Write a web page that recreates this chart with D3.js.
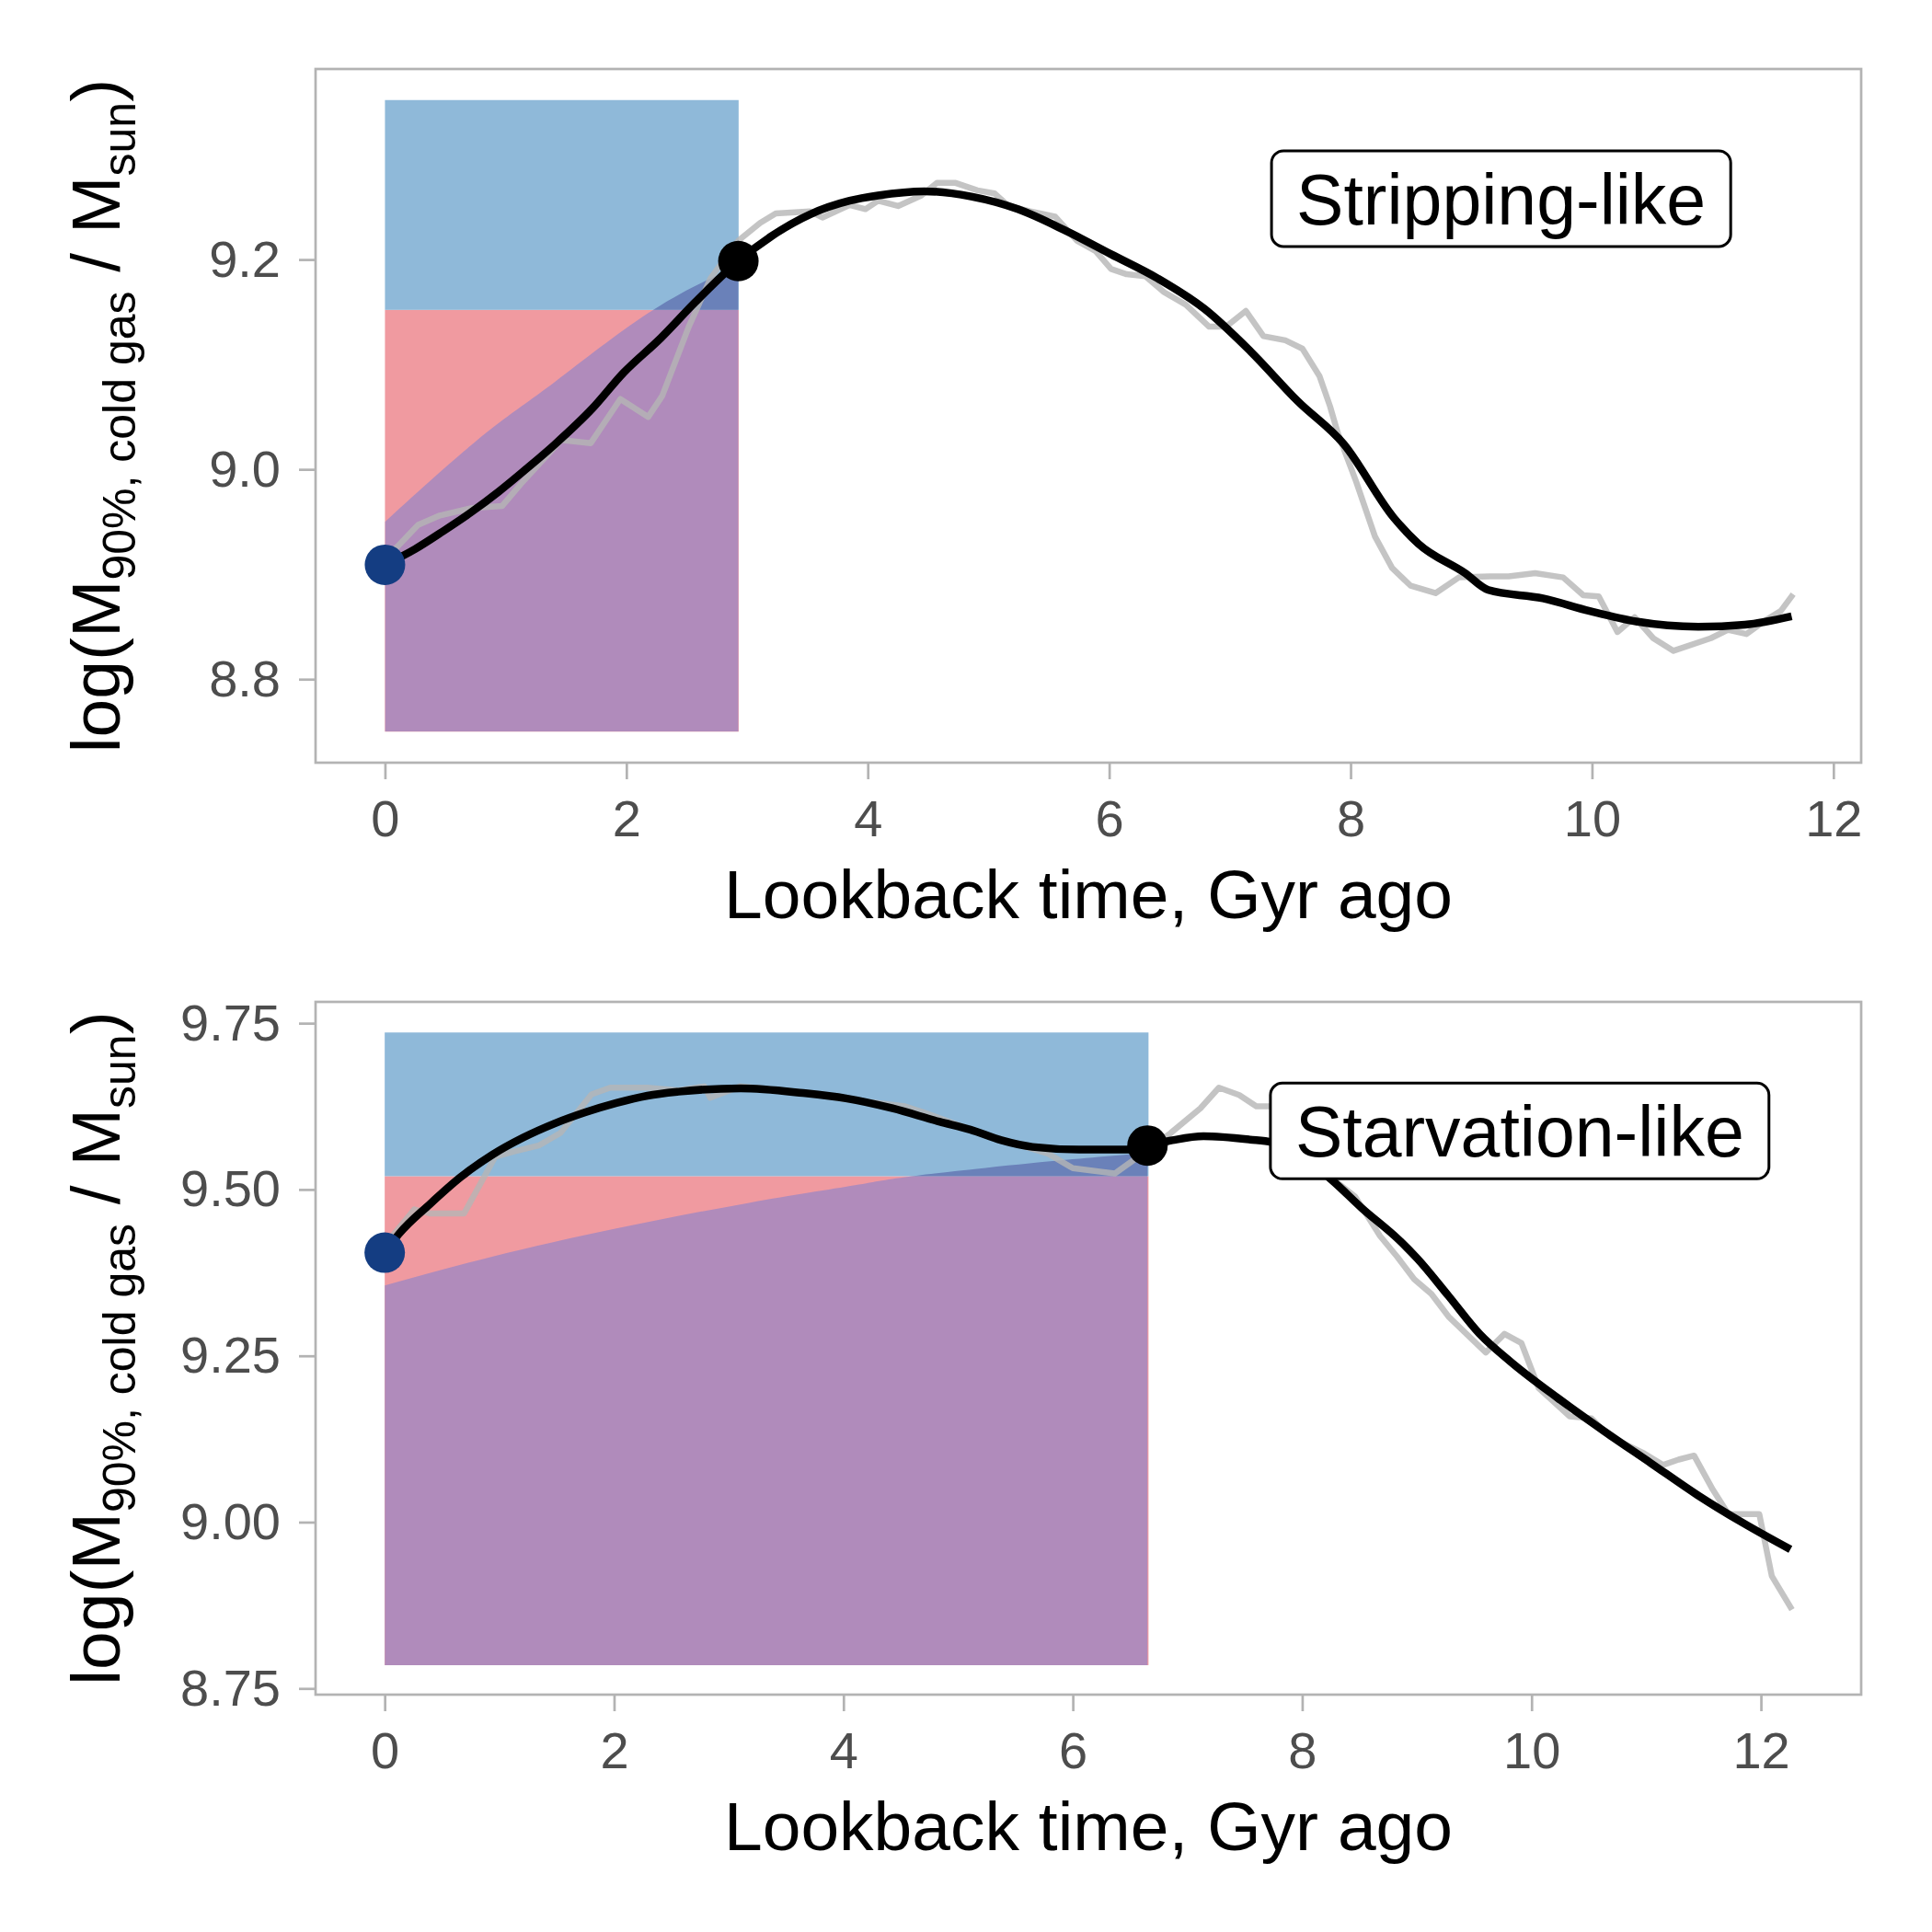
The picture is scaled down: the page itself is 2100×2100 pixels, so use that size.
<!DOCTYPE html>
<html>
<head>
<meta charset="utf-8">
<script src="https://cdn.jsdelivr.net/npm/d3@7"></script>
<style>
  body { margin: 0; background: #fff; }
  svg { display: block; }
  text { font-family: "Liberation Sans", Arial, Helvetica, sans-serif; }
</style>
</head>
<body>
<svg id="chart" width="2100" height="2100"></svg>
<script>
// ---- data: [lookback time (Gyr), log mass] ----

// top panel: stripping-like
var topRaw = [[0, 8.914], [0.275, 8.947], [0.455, 8.956], [0.713, 8.963], [0.97, 8.965], [1.125, 8.986],
  [1.46, 9.028], [1.705, 9.025], [1.95, 9.067], [2.181, 9.05], [2.297, 9.07], [2.517, 9.136], [2.697, 9.182],
  [2.928, 9.218], [3.109, 9.235], [3.238, 9.244], [3.521, 9.246], [3.624, 9.240], [3.85, 9.252], [3.981, 9.248],
  [4.084, 9.256], [4.251, 9.251], [4.444, 9.261], [4.573, 9.273], [4.728, 9.273], [4.908, 9.266], [5.05, 9.263],
  [5.166, 9.251], [5.346, 9.246], [5.552, 9.241], [5.733, 9.218], [5.887, 9.208], [6.016, 9.191], [6.145, 9.186],
  [6.3, 9.184], [6.454, 9.169], [6.634, 9.157], [6.828, 9.136], [6.969, 9.136], [7.132, 9.151], [7.278, 9.127],
  [7.459, 9.123], [7.601, 9.115], [7.742, 9.089], [7.83, 9.06], [7.893, 9.035], [8.047, 8.988], [8.202, 8.936],
  [8.344, 8.906], [8.498, 8.889], [8.704, 8.882], [8.897, 8.897], [9.155, 8.898], [9.309, 8.898], [9.529, 8.901],
  [9.761, 8.897], [9.928, 8.88], [10.056, 8.879], [10.211, 8.845], [10.353, 8.859], [10.508, 8.839], [10.675, 8.827],
  [10.984, 8.839], [11.126, 8.847], [11.28, 8.843], [11.422, 8.855], [11.564, 8.865], [11.667, 8.881]];
var topSmooth = [[0, 8.909], [0.249, 8.924], [0.481, 8.941], [0.713, 8.959], [0.945, 8.979], [1.177, 9.001],
  [1.409, 9.024], [1.718, 9.058], [1.976, 9.092], [2.284, 9.125], [2.568, 9.159], [2.928, 9.1985], [3.212, 9.223],
  [3.521, 9.243], [3.85, 9.256], [4.084, 9.261], [4.47, 9.265], [4.857, 9.260], [5.243, 9.248], [5.63, 9.228],
  [6.016, 9.205], [6.402, 9.182], [6.789, 9.153], [7.175, 9.112], [7.562, 9.065], [7.944, 9.024], [8.357, 8.954],
  [8.562, 8.929], [8.949, 8.901], [9.141, 8.885], [9.593, 8.877], [9.98, 8.865], [10.366, 8.855], [10.881, 8.850],
  [11.268, 8.852], [11.654, 8.860]];
var topEnvelope = [[0, 8.950], [0.378, 8.9895], [0.893, 9.0398], [1.409, 9.0835], [2.181, 9.1489], [2.774, 9.1858],
  [2.928, 9.1925]];
var topWindow = [0, 2.93];            // time span of the shaded block
var topBands = [8.75, 9.152, 9.352];  // bottom, split, top of the shaded block
var topPoints = [[0, 8.909], [2.928, 9.1985]];
var topLabel = {text: 'Stripping-like', at: [7.345, 9.258]};
var topXDomain = [-0.575, 12.23];
var topYDomain = [8.7204, 9.3816];
var topYTicks = [8.8, 9.0, 9.2];

// bottom panel: starvation-like
var botRaw = [[0, 9.416], [0.258, 9.470], [0.394, 9.464], [0.692, 9.464], [0.963, 9.549], [1.126, 9.557],
  [1.342, 9.566], [1.532, 9.585], [1.804, 9.643], [1.966, 9.653], [2.291, 9.653], [2.562, 9.649], [2.788, 9.655],
  [2.837, 9.638], [3.1, 9.655], [3.4, 9.650], [3.7, 9.645], [4.0, 9.636], [4.3, 9.630], [4.537, 9.625],
  [4.698, 9.616], [5.0, 9.597], [5.3, 9.578], [5.55, 9.566], [5.783, 9.554], [6.0, 9.532], [6.366, 9.524],
  [6.569, 9.549], [6.84, 9.583], [7.112, 9.622], [7.274, 9.653], [7.451, 9.642], [7.6, 9.625], [7.722, 9.625],
  [7.9, 9.60], [8.1, 9.56], [8.309, 9.51], [8.463, 9.489], [8.679, 9.430], [8.828, 9.399], [8.977, 9.365],
  [9.127, 9.343], [9.276, 9.309], [9.601, 9.255], [9.764, 9.283], [9.912, 9.269], [10.062, 9.2015], [10.333, 9.159],
  [10.523, 9.156], [10.686, 9.128], [10.984, 9.103], [11.146, 9.086], [11.282, 9.094], [11.417, 9.100],
  [11.58, 9.049], [11.716, 9.012], [11.986, 9.012], [12.095, 8.919], [12.271, 8.8685]];
var botSmooth = [[0, 9.405], [0.123, 9.433], [0.394, 9.478], [0.665, 9.519], [0.936, 9.552], [1.207, 9.578],
  [1.478, 9.599], [1.749, 9.616], [2.02, 9.630], [2.291, 9.641], [2.562, 9.647], [3.104, 9.652], [3.646, 9.645],
  [4.022, 9.637], [4.428, 9.622], [4.835, 9.602], [5.106, 9.590], [5.377, 9.574], [5.648, 9.564], [6.055, 9.560],
  [6.461, 9.560], [6.651, 9.566], [6.868, 9.574], [7.139, 9.580], [7.545, 9.575], [7.735, 9.571], [8.0, 9.55],
  [8.273, 9.512], [8.517, 9.4725], [8.842, 9.4245], [9.005, 9.396], [9.276, 9.340], [9.547, 9.283], [9.818, 9.241],
  [10.225, 9.187], [10.631, 9.137], [11.038, 9.089], [11.444, 9.041], [11.851, 8.998], [12.257, 8.959]];
var botEnvelope = [[0, 9.3556], [0.936, 9.399], [2.02, 9.4414], [3.177, 9.480], [4.1, 9.5063],
  [4.635, 9.5207], [5.801, 9.5423], [6.651, 9.555]];
var botWindow = [0, 6.66];
var botBands = [8.785, 9.52, 9.736];
var botPoints = [[0, 9.405], [6.651, 9.566]];
var botLabel = {text: 'Starvation-like', at: [7.723, 9.588]};
var botXDomain = [-0.603, 12.874];
var botYDomain = [8.7407, 9.782];
var botYTicks = [8.75, 9.00, 9.25, 9.50, 9.75];

var xTicks = [0, 2, 4, 6, 8, 10, 12];

// ---- drawing ----
var svg = d3.select('#chart');
var defs = svg.append('defs');
var frameColor = '#b3b3b3';

function drawPanel(p, id) {
    var x = d3.scaleLinear().domain(p.xDomain).range([p.left, p.right]);
    var y = d3.scaleLinear().domain(p.yDomain).range([p.bottom, p.top]);
    var g = svg.append('g');

    var x0 = x(p.window[0]), x1 = x(p.window[1]);

    // clip rects for the two colour bands
    defs.append('clipPath').attr('id', 'lo' + id).append('rect')
        .attr('x', x0).attr('width', x1 - x0)
        .attr('y', y(p.bands[1])).attr('height', y(p.bands[0]) - y(p.bands[1]));
    defs.append('clipPath').attr('id', 'hi' + id).append('rect')
        .attr('x', x0).attr('width', x1 - x0)
        .attr('y', y(p.bands[2])).attr('height', y(p.bands[1]) - y(p.bands[2]));

    g.append('rect')
        .attr('x', x0).attr('width', x1 - x0)
        .attr('y', y(p.bands[1])).attr('height', y(p.bands[0]) - y(p.bands[1]))
        .attr('fill', '#f09aa0');
    g.append('rect')
        .attr('x', x0).attr('width', x1 - x0)
        .attr('y', y(p.bands[2])).attr('height', y(p.bands[1]) - y(p.bands[2]))
        .attr('fill', '#8fb9d9');

    var area = d3.area()
        .x(function(d) { return x(d[0]); })
        .y0(y(p.bands[0]))
        .y1(function(d) { return y(d[1]); })
        .curve(d3.curveNatural);
    g.append('path').datum(p.envelope).attr('d', area)
        .attr('fill', '#b08bbb').attr('clip-path', 'url(#lo' + id + ')');
    g.append('path').datum(p.envelope).attr('d', area)
        .attr('fill', '#6a81b9').attr('clip-path', 'url(#hi' + id + ')');

    // noisy track
    var rawLine = d3.line()
        .x(function(d) { return x(d[0]); })
        .y(function(d) { return y(d[1]); });
    g.append('path').datum(p.raw).attr('d', rawLine)
        .attr('fill', 'none').attr('stroke', '#b5b5b5').attr('stroke-opacity', 0.8)
        .attr('stroke-width', 6.5).attr('stroke-linejoin', 'round');

    // smoothed track
    var smoothLine = d3.line()
        .x(function(d) { return x(d[0]); })
        .y(function(d) { return y(d[1]); })
        .curve(d3.curveMonotoneX);
    g.append('path').datum(p.smooth).attr('d', smoothLine)
        .attr('fill', 'none').attr('stroke', '#000').attr('stroke-width', 8.5);

    g.selectAll('circle.pt').data(p.points).enter().append('circle')
        .attr('class', 'pt')
        .attr('cx', function(d) { return x(d[0]); })
        .attr('cy', function(d) { return y(d[1]); })
        .attr('r', 22)
        .attr('fill', function(d, i) { return i == 0 ? '#143d82' : '#000'; });

    // label box
    var lab = g.append('g');
    var t = lab.append('text').text(p.label.text)
        .attr('font-size', 77).attr('fill', '#000');
    var tw = t.node().getComputedTextLength();
    var bx = x(p.label.at[0]), by = y(p.label.at[1]) - 52;
    lab.insert('rect', 'text')
        .attr('x', bx).attr('y', by)
        .attr('width', tw + 54).attr('height', 104)
        .attr('rx', 13).attr('ry', 13)
        .attr('fill', '#fff').attr('stroke', '#000').attr('stroke-width', 3);
    t.attr('x', bx + 27).attr('y', by + 80);

    // frame
    svg.append('rect')
        .attr('x', p.left).attr('y', p.top)
        .attr('width', p.right - p.left).attr('height', p.bottom - p.top)
        .attr('fill', 'none').attr('stroke', frameColor).attr('stroke-width', 2.7);

    // axes
    var xAxis = svg.append('g')
        .attr('transform', 'translate(0,' + p.bottom + ')')
        .call(d3.axisBottom(x).tickValues(xTicks).tickFormat(d3.format('d'))
            .tickSize(18).tickSizeOuter(0).tickPadding(22));
    var yAxis = svg.append('g')
        .attr('transform', 'translate(' + p.left + ',0)')
        .call(d3.axisLeft(y).tickValues(p.yTicks).tickFormat(d3.format(p.yFormat))
            .tickSize(18).tickSizeOuter(0).tickPadding(20));
    [xAxis, yAxis].forEach(function(a) {
        a.select('.domain').remove();
        a.selectAll('line').attr('stroke', frameColor).attr('stroke-width', 2.7);
        a.selectAll('text').attr('font-size', 56).attr('fill', '#4d4d4d')
            .attr('font-family', '"Liberation Sans", Arial, sans-serif');
    });

    // axis titles
    svg.append('text')
        .attr('x', (p.left + p.right) / 2).attr('y', p.bottom + 169)
        .attr('text-anchor', 'middle').attr('font-size', 75)
        .text('Lookback time, Gyr ago');

    var yt = svg.append('text')
        .attr('transform', 'translate(130,' + ((p.top + p.bottom) / 2) + ') rotate(-90)')
        .attr('text-anchor', 'middle').attr('font-size', 75)
        .style('white-space', 'pre');
    yt.append('tspan').text('log(M');
    yt.append('tspan').attr('font-size', 50).attr('dy', 17).text('90%, cold gas');
    yt.append('tspan').attr('dy', -17).text(' / M');
    yt.append('tspan').attr('font-size', 50).attr('dy', 17).text('sun');
    yt.append('tspan').attr('dy', -17).text(')');
}

drawPanel({
    left: 343, right: 2023, top: 75, bottom: 829,
    xDomain: topXDomain, yDomain: topYDomain, yTicks: topYTicks, yFormat: '.1f',
    raw: topRaw, smooth: topSmooth, envelope: topEnvelope,
    window: topWindow, bands: topBands, points: topPoints, label: topLabel
}, 1);

drawPanel({
    left: 343, right: 2023, top: 1089, bottom: 1842,
    xDomain: botXDomain, yDomain: botYDomain, yTicks: botYTicks, yFormat: '.2f',
    raw: botRaw, smooth: botSmooth, envelope: botEnvelope,
    window: botWindow, bands: botBands, points: botPoints, label: botLabel
}, 2);
</script>
</body>
</html>
